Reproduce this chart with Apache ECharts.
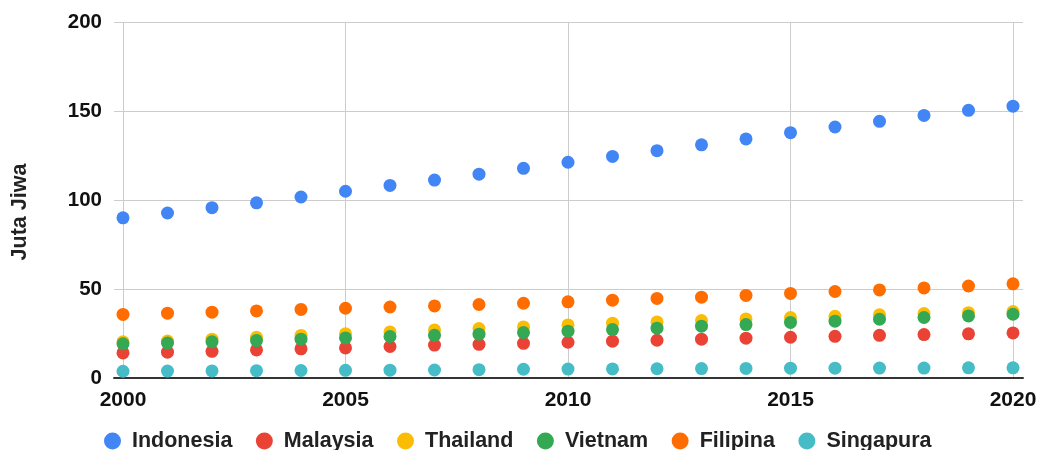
<!DOCTYPE html>
<html>
<head>
<meta charset="utf-8">
<script src="https://cdn.jsdelivr.net/npm/echarts@6/dist/echarts.min.js"></script>
<style>
  html, body { margin: 0; padding: 0; background: #fff; }
  #chart { width: 1045px; height: 450px; }
</style>
</head>
<body>
<div id="chart"></div>
<script>
const years = [2000, 2001, 2002, 2003, 2004, 2005, 2006, 2007, 2008, 2009, 2010,
  2011, 2012, 2013, 2014, 2015, 2016, 2017, 2018, 2019, 2020];

const indonesia = [90.0, 92.7, 95.7, 98.4, 101.7, 104.9, 108.2, 111.2, 114.5, 117.8, 121.2,
  124.5, 127.7, 131.0, 134.3, 137.8, 141.0, 144.2, 147.5, 150.4, 152.7];
const malaysia = [14.1, 14.5, 15.0, 15.8, 16.4, 16.9, 17.7, 18.5, 18.9, 19.5, 20.1,
  20.7, 21.2, 21.8, 22.4, 22.9, 23.4, 24.0, 24.4, 24.8, 25.3];
const thailand = [20.3, 20.8, 21.8, 22.9, 23.9, 24.8, 25.9, 27.0, 27.8, 28.7, 29.8,
  30.8, 31.5, 32.3, 33.2, 34.0, 34.7, 35.5, 36.2, 36.7, 37.3];
const vietnam = [19.2, 19.6, 20.3, 21.0, 21.8, 22.5, 23.3, 24.0, 24.6, 25.5, 26.3,
  27.2, 28.0, 29.1, 30.0, 31.2, 31.9, 33.0, 34.0, 34.9, 35.8];
const filipina = [35.7, 36.4, 37.0, 37.7, 38.5, 39.2, 39.9, 40.5, 41.3, 42.0, 42.8,
  43.7, 44.7, 45.4, 46.4, 47.5, 48.6, 49.5, 50.6, 51.7, 52.9];
const singapura = [3.8, 3.9, 4.0, 4.1, 4.2, 4.3, 4.4, 4.5, 4.7, 4.9, 5.0,
  5.1, 5.2, 5.3, 5.4, 5.5, 5.5, 5.6, 5.6, 5.7, 5.7];

const names = ['Indonesia', 'Malaysia', 'Thailand', 'Vietnam', 'Filipina', 'Singapura'];
const values = [indonesia, malaysia, thailand, vietnam, filipina, singapura];
const colors = ['#4285F4', '#EA4335', '#FBBC04', '#34A853', '#FF6D01', '#46BDC6'];

const font = 'Arial, "Liberation Sans", sans-serif';

const chart = echarts.init(document.getElementById('chart'), null, { renderer: 'canvas' });

const option = {
  backgroundColor: '#ffffff',
  color: colors,
  animation: false,
  textStyle: { fontFamily: font },
  legend: {
    bottom: -7,
    left: 99,
    icon: 'circle',
    // wide box so the circle (17px) sits with ~11px before the text
    itemWidth: 29,
    itemHeight: 17,
    itemGap: 23.5,
    textStyle: { fontSize: 21.5, fontWeight: 'bold', color: '#222', fontFamily: font },
    data: names
  },
  grid: [
    // points + vertical lines
    { left: 123, right: 32, top: 22, bottom: 72 },
    // horizontal lines, y labels and bottom axis line (slightly wider)
    { left: 114, right: 22, top: 22, bottom: 72 }
  ],
  xAxis: [{
    gridIndex: 0,
    type: 'value',
    min: 2000,
    max: 2020,
    interval: 5,
    axisLine: { show: false },
    axisTick: { show: false },
    splitLine: { show: true, lineStyle: { color: '#cccccc', width: 1 } },
    axisLabel: {
      margin: 12,
      fontSize: 21,
      fontWeight: 'bold',
      color: '#111',
      fontFamily: font,
      formatter: function (v) { return String(v); }
    }
  }, {
    gridIndex: 1,
    type: 'value',
    min: 0,
    max: 1,
    axisLine: { show: true, lineStyle: { color: '#333', width: 2 } },
    axisTick: { show: false },
    axisLabel: { show: false },
    splitLine: { show: false }
  }],
  yAxis: [{
    gridIndex: 0,
    type: 'value',
    min: 0,
    max: 200,
    interval: 50,
    axisLine: { show: false },
    axisTick: { show: false },
    axisLabel: { show: false },
    splitLine: { show: false }
  }, {
    gridIndex: 1,
    type: 'value',
    min: 0,
    max: 200,
    interval: 50,
    name: 'Juta Jiwa',
    nameLocation: 'middle',
    nameGap: 83,
    nameTextStyle: {
      fontSize: 21.5, fontWeight: 'bold', color: '#222', fontFamily: font,
      padding: [0, 24, 0, 0]
    },
    axisLine: { show: false },
    axisTick: { show: false },
    splitLine: { show: true, lineStyle: { color: '#cccccc', width: 1 } },
    axisLabel: {
      margin: 12,
      fontSize: 20.5,
      fontWeight: 'bold',
      color: '#111',
      fontFamily: font
    }
  }],
  series: names.map(function (name, i) {
    return {
      name: name,
      type: 'scatter',
      xAxisIndex: 0,
      yAxisIndex: 0,
      symbol: 'circle',
      symbolSize: 13,
      itemStyle: { color: colors[i], opacity: 1 },
      data: years.map(function (y, j) { return [y, values[i][j]]; })
    };
  })
};

chart.setOption(option);
</script>
</body>
</html>
